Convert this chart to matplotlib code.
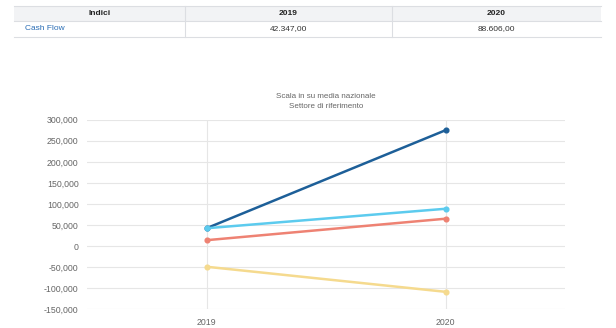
import matplotlib
matplotlib.use("Agg")
import matplotlib.pyplot as plt
from matplotlib.patches import Rectangle
from matplotlib.lines import Line2D
from matplotlib.ticker import FuncFormatter

W, H = 616, 328

# ---- data ----
years = ["2019", "2020"]
table_header = ["Indici", "2019", "2020"]
table_row_label = "Cash Flow"
table_row_values = ["42.347,00", "88.606,00"]

series_dark = [42347, 275000]
series_light = [42347, 88606]
series_red = [14000, 65000]
series_yellow = [-49000, -108500]
yticks = [-150000, -100000, -50000, 0, 50000, 100000, 150000, 200000, 250000, 300000]
title_lines = ["Scala in su media nazionale", "Settore di riferimento"]

colors = {"dark": "#1d5f98", "light": "#5ccbee", "red": "#ee8273", "yellow": "#f5da8e"}

fig = plt.figure(figsize=(W / 100, H / 100), dpi=100)
plt.rcParams['font.family'] = ['Liberation Sans', 'DejaVu Sans']

def fx(x):
    return x / W

def fy(y):
    return 1 - y / H

# ---- table ----
tl, tr = 14, 601
c1, c2 = 185, 392
hy0, hy1, ry1 = 6, 21, 37
fig.patches.append(Rectangle((fx(tl), fy(hy1)), fx(tr - tl), (hy1 - hy0) / H,
                             transform=fig.transFigure, facecolor="#f2f3f5",
                             edgecolor="none", zorder=0))
for y in (hy0, hy1, ry1):
    fig.lines.append(Line2D([fx(tl), fx(tr)], [fy(y), fy(y)], transform=fig.transFigure,
                            color="#dcdee2", lw=0.8))
for x in (c1, c2):
    fig.lines.append(Line2D([fx(x), fx(x)], [fy(hy0), fy(ry1)], transform=fig.transFigure,
                            color="#dcdee2", lw=0.8))
hcenters = [(tl + c1) / 2, (c1 + c2) / 2, (c2 + tr) / 2]
for cx, t in zip(hcenters, table_header):
    fig.text(fx(cx), fy((hy0 + hy1) / 2), t, ha="center", va="center",
             fontsize=6, fontweight="bold", color="#222222")
fig.text(fx(25), fy((hy1 + ry1) / 2), table_row_label, ha="left", va="center",
         fontsize=6, color="#2a6db5")
for cx, t in zip(hcenters[1:], table_row_values):
    fig.text(fx(cx), fy((hy1 + ry1) / 2), t, ha="center", va="center",
             fontsize=6, color="#333333")

# ---- chart ----
ax_l, ax_r, ax_t, ax_b = 87, 565, 119.7, 309.3
ax = fig.add_axes([fx(ax_l), fy(ax_b), fx(ax_r - ax_l), (ax_b - ax_t) / H])
xs = list(range(len(years)))
for vals, key in [(series_yellow, "yellow"), (series_red, "red"),
                  (series_dark, "dark"), (series_light, "light")]:
    ax.plot(xs, vals, color=colors[key], lw=1.8, marker="o", markersize=3.4,
            solid_capstyle="round", zorder=3)

ax.set_xlim(-0.5, 1.5)
ax.set_ylim(yticks[0], yticks[-1])
ax.set_yticks(yticks)
ax.yaxis.set_major_formatter(FuncFormatter(lambda v, p: f"{v:,.0f}"))
ax.set_xticks(xs)
ax.set_xticklabels(years)
ax.grid(True, color="#e6e6e6", lw=0.8)
ax.set_axisbelow(True)
for s in ax.spines.values():
    s.set_visible(False)
ax.tick_params(axis="both", length=0, labelsize=6.3, labelcolor="#666666")
ax.tick_params(axis="y", pad=6)
ax.tick_params(axis="x", pad=6)

fig.text(fx((ax_l + ax_r) / 2), fy(97), title_lines[0], ha="center", va="center",
         fontsize=5.8, color="#666666")
fig.text(fx((ax_l + ax_r) / 2), fy(106), title_lines[1], ha="center", va="center",
         fontsize=5.8, color="#666666")

fig.savefig("out.png", dpi=100)
